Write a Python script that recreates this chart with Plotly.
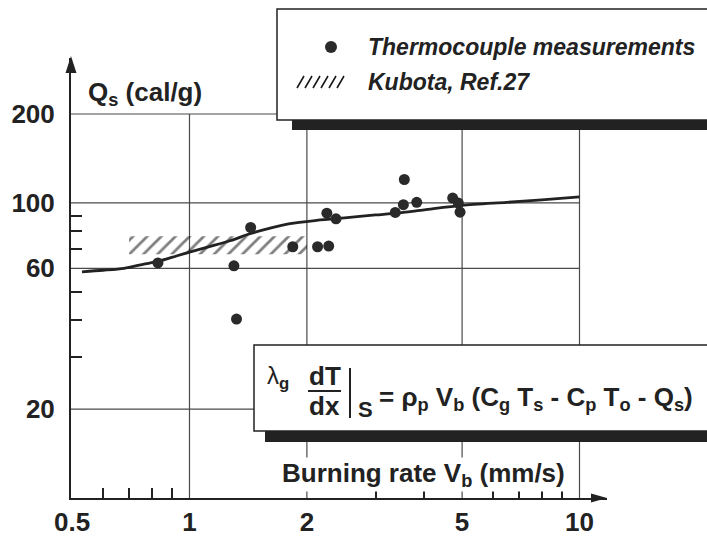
import numpy as np
import plotly.graph_objects as go

# ---------------- data ----------------
meas_x = [0.83, 1.30, 1.32, 1.435, 1.84, 2.13, 2.275, 2.25, 2.375, 3.37, 3.535, 3.555, 3.825, 4.73, 4.89, 4.94]
meas_y = [62.6, 61.2, 40.4, 82.5, 71.0, 71.0, 71.4, 92.3, 88.3, 92.8, 98.6, 120.0, 100.4, 103.8, 99.8, 93.0]

fit_x = [0.53, 0.60, 0.68, 0.76, 0.83, 0.93, 1.0, 1.13, 1.27, 1.43, 1.61, 1.81, 2.12, 2.5, 3.0, 3.4, 4.0, 5.0, 6.5, 8.0, 10.0]
fit_y = [58.4, 59.1, 60.0, 61.9, 63.3, 66.2, 68.1, 71.2, 74.4, 78.6, 82.1, 85.0, 87.2, 89.0, 91.0, 92.3, 94.7, 98.0, 100.4, 102.4, 104.7]

kubota_x = [0.70, 2.00]      # burning-rate extent of the Kubota band
kubota_y = [67.0, 77.0]      # Qs extent of the Kubota band

x_tickvals = [0.5, 1, 2, 5, 10]
x_ticktext = ["0.5", "1", "2", "5", "10"]
y_tickvals = [20, 60, 100, 200]
y_ticktext = ["20", "60", "100", "200"]
x_minor = [0.6, 0.7, 0.8, 0.9, 3, 4, 6, 7, 8, 9]
y_minor = [30, 40, 50, 70, 80, 90]
grid_x = [1, 2, 5, 10]
grid_y = [20, 60, 100, 200]

# ---------------- layout geometry ----------------
W, H = 707, 541
PL, PR, PT, PB = 71, 607, 58, 498          # plot area in pixels
X_MIN, X_MAX = 10 ** -0.3038, 10 ** 1.0705
Y_MIN, Y_MAX = 10.0, 10 ** 2.4908

FONT = "Liberation Sans, Arial, Helvetica, sans-serif"
INK = "#222222"
GRID = "#4a4a4a"


def P(px, py):
    """pixel -> paper coordinates"""
    return (px - PL) / (PR - PL), (PB - py) / (PB - PT)


fig = go.Figure()

# Kubota hatched band
bx = [kubota_x[0], kubota_x[1], kubota_x[1], kubota_x[0], kubota_x[0]]
by = [kubota_y[0], kubota_y[0], kubota_y[1], kubota_y[1], kubota_y[0]]
fig.add_trace(go.Scatter(
    x=bx, y=by, mode="lines", fill="toself",
    line=dict(width=0, color="rgba(0,0,0,0)"),
    fillcolor="rgba(0,0,0,0)",
    fillpattern=dict(shape="/", size=10, solidity=0.28, fgcolor="#000000",
                     bgcolor="rgba(0,0,0,0)"),
    hoverinfo="skip", showlegend=False))

# fitted curve
fig.add_trace(go.Scatter(
    x=fit_x, y=fit_y, mode="lines",
    line=dict(color=INK, width=2.8, shape="spline", smoothing=0.8),
    showlegend=False))

# measurements
fig.add_trace(go.Scatter(
    x=meas_x, y=meas_y, mode="markers",
    marker=dict(size=11, color="#2a2a2a"),
    showlegend=False))

shapes = []
# gridlines (stop at 200 and at 10 mm/s)
for v in grid_x:
    shapes.append(dict(type="line", xref="x", yref="y", x0=v, x1=v, y0=Y_MIN, y1=200,
                       line=dict(color=GRID, width=1.2), layer="below"))
for v in grid_y:
    shapes.append(dict(type="line", xref="x", yref="y", x0=X_MIN, x1=10, y0=v, y1=v,
                       line=dict(color=GRID, width=1.2), layer="below"))

# axis arrows
ax_tip = P(607, 498); ax_b1 = P(591, 493.5); ax_b2 = P(591, 502.5)
shapes.append(dict(type="path", xref="paper", yref="paper",
                   path=f"M {ax_tip[0]},{ax_tip[1]} L {ax_b1[0]},{ax_b1[1]} L {ax_b2[0]},{ax_b2[1]} Z",
                   fillcolor=INK, line=dict(width=0), layer="above"))
ay_tip = P(71, 56); ay_b1 = P(65.5, 73); ay_b2 = P(76.5, 73)
shapes.append(dict(type="path", xref="paper", yref="paper",
                   path=f"M {ay_tip[0]},{ay_tip[1]} L {ay_b1[0]},{ay_b1[1]} L {ay_b2[0]},{ay_b2[1]} Z",
                   fillcolor=INK, line=dict(width=0), layer="above"))


def rect(x0, y0, x1, y1, fill, lw, lc=INK):
    a = P(x0, y1); b = P(x1, y0)
    return dict(type="rect", xref="paper", yref="paper", x0=a[0], y0=a[1], x1=b[0], y1=b[1],
                fillcolor=fill, line=dict(width=lw, color=lc), layer="above")


# legend box with shadow
shapes.append(rect(292, 119, 730, 130, INK, 0))
shapes.append(rect(277, 9, 730, 120, "white", 1.5))
# legend dot
c0 = P(325, 41); c1 = P(337, 53)
shapes.append(dict(type="circle", xref="paper", yref="paper", x0=c0[0], y0=c1[1], x1=c1[0], y1=c0[1],
                   fillcolor="#2a2a2a", line=dict(width=0), layer="above"))
# legend hatch icon
for i in range(6):
    s0 = P(297 + 8 * i, 88); s1 = P(304 + 8 * i, 76)
    shapes.append(dict(type="line", xref="paper", yref="paper", x0=s0[0], y0=s0[1], x1=s1[0], y1=s1[1],
                       line=dict(color="#1a1a1a", width=1.6), layer="above"))

# equation box with shadow
shapes.append(rect(265, 430, 730, 442, INK, 0))
shapes.append(rect(254, 345, 730, 431, "white", 1.5))
# fraction bar and evaluation bar
f0 = P(308, 391); f1 = P(341, 391)
shapes.append(dict(type="line", xref="paper", yref="paper", x0=f0[0], y0=f0[1], x1=f1[0], y1=f1[1],
                   line=dict(color=INK, width=2), layer="above"))
v0 = P(350, 368); v1 = P(350, 418)
shapes.append(dict(type="line", xref="paper", yref="paper", x0=v0[0], y0=v0[1], x1=v1[0], y1=v1[1],
                   line=dict(color=INK, width=2), layer="above"))

annotations = []


def text(t, px, py, size, xanchor="left", family=FONT, bg=None):
    x, y = P(px, py)
    d = dict(text=t, x=x, y=y, xref="paper", yref="paper", showarrow=False,
             xanchor=xanchor, yanchor="middle", font=dict(family=family, size=size, color=INK))
    if bg:
        d["bgcolor"] = bg
        d["borderpad"] = 0
    annotations.append(d)


text("<b>Q<sub>s</sub> (cal/g)</b>", 86, 94, 26)
text("<b>Burning rate V<sub>b</sub> (mm/s)</b>", 281, 474, 26, bg="white")
text("<b><i>Thermocouple measurements</i></b>", 366, 47, 23)
text("<b><i>Kubota, Ref.27</i></b>", 366, 82, 23)
# equation
text("λ<sub><b>g</b></sub>", 265, 377, 24)
text("<b>dT</b>", 325, 376, 26, xanchor="center")
text("<b>dx</b>", 324, 406, 26, xanchor="center")
text("<b>S</b>", 356, 409, 22)
text("<b>= ρ<sub>p</sub> V<sub>b</sub> (C<sub>g</sub> T<sub>s</sub> - C<sub>p</sub> T<sub>o</sub> - Q<sub>s</sub>)</b>",
     377, 398, 26)

fig.update_layout(
    width=W, height=H,
    margin=dict(l=PL, r=W - PR, t=PT, b=H - PB, pad=0, autoexpand=False),
    paper_bgcolor="white", plot_bgcolor="white",
    shapes=shapes, annotations=annotations,
    showlegend=False,
    xaxis=dict(type="log", range=[np.log10(X_MIN), np.log10(X_MAX)],
               showgrid=False, zeroline=False, automargin=False,
               showline=True, linewidth=2, linecolor=INK,
               tickmode="array", tickvals=x_tickvals, ticktext=x_ticktext,
               ticks="", ticklabelstandoff=0,
               tickfont=dict(family=FONT, size=26, color=INK, weight="bold"),
               minor=dict(tickmode="array", tickvals=x_minor, ticks="inside",
                          ticklen=10, tickwidth=1.5, tickcolor=INK, showgrid=False)),
    yaxis=dict(type="log", range=[np.log10(Y_MIN), np.log10(Y_MAX)],
               showgrid=False, zeroline=False, automargin=False,
               showline=True, linewidth=2, linecolor=INK,
               tickmode="array", tickvals=y_tickvals, ticktext=y_ticktext,
               ticks="", ticklabelstandoff=9,
               tickfont=dict(family=FONT, size=26, color=INK, weight="bold"),
               minor=dict(tickmode="array", tickvals=y_minor, ticks="inside",
                          ticklen=11, tickwidth=1.5, tickcolor=INK, showgrid=False)),
)

fig.write_html("out.html", config={"displayModeBar": False},
               post_script="document.body.style.margin='0';document.body.style.padding='0';")
